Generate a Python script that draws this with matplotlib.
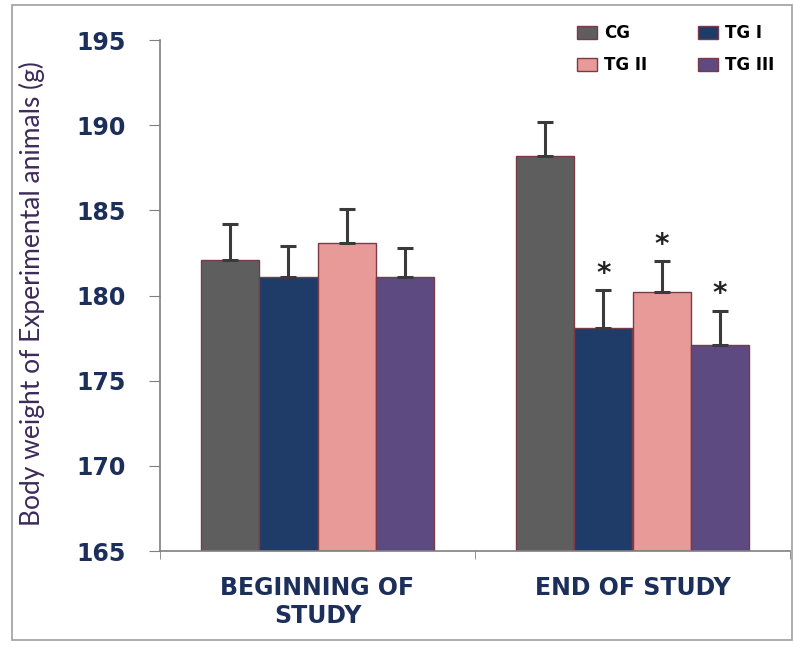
import matplotlib
matplotlib.use("Agg")
import matplotlib.pyplot as plt
import numpy as np
from matplotlib.patches import Rectangle

categories = ["BEGINNING OF\nSTUDY", "END OF STUDY"]
groups = ["CG", "TG I", "TG II", "TG III"]
means = {
    "CG": [182.1, 188.2],
    "TG I": [181.1, 178.1],
    "TG II": [183.1, 180.2],
    "TG III": [181.1, 177.1],
}
errors = {
    "CG": [2.1, 2.0],
    "TG I": [1.8, 2.2],
    "TG II": [2.0, 1.8],
    "TG III": [1.7, 2.0],
}
significant = {
    "CG": [False, False],
    "TG I": [False, True],
    "TG II": [False, True],
    "TG III": [False, True],
}
colors = {"CG": "#5e5e5e", "TG I": "#1f3c68", "TG II": "#e89a99", "TG III": "#5d4a80"}
yticks = [165, 170, 175, 180, 185, 190, 195]

fig = plt.figure(figsize=(7.94, 6.54), dpi=100)
fig.patches.append(Rectangle((12/794, 14/654), 1 - 12/794 - 0.002, 1 - 14/654 - 5/654,
                             transform=fig.transFigure, fill=False,
                             edgecolor="#a0a0a0", linewidth=1.2))
ax = fig.add_axes([160/794, 1 - 551/654, 630/794, 511/654])

x = np.arange(len(categories))
width = 0.185
n = len(groups)
handles = {}
for i, g in enumerate(groups):
    pos = x + (i - (n - 1) / 2) * width
    h = ax.bar(pos, np.array(means[g]) - 165, bottom=165, width=width, color=colors[g],
               edgecolor="#7a3a48", linewidth=1.0, label=g, zorder=2)
    handles[g] = h
    ax.errorbar(pos, means[g], yerr=[np.zeros(len(x)), errors[g]], fmt="none",
                ecolor="#3a3a3a", elinewidth=2.2, capsize=6, capthick=2.2, zorder=3)
    for j, s in enumerate(significant[g]):
        if s:
            ax.text(pos[j], means[g][j] + errors[g][j] + 0.15, "*", ha="center", va="bottom",
                    fontsize=20, fontweight="bold", color="#222222")

ax.set_ylim(165, 195)
ax.set_xlim(-0.5, 1.5)
ax.set_yticks(yticks)
ax.set_yticklabels([str(t) for t in yticks], fontsize=17, fontweight="bold",
                   color="#1c2e5a", family="DejaVu Sans")
ax.set_xticks(x)
ax.set_xticklabels(categories, fontsize=17, fontweight="bold", color="#1c2e5a",
                   family="DejaVu Sans", linespacing=1.2)
ax.set_xticks([-0.5, 0.5, 1.5], minor=True)
ax.tick_params(axis="x", which="major", length=0, pad=18)
ax.tick_params(axis="x", which="minor", length=6, direction="out", color="#7f7f7f")
ax.tick_params(axis="y", length=8, direction="out", color="#7f7f7f", pad=17)
for sp in ["top", "right"]:
    ax.spines[sp].set_visible(False)
for sp in ["left", "bottom"]:
    ax.spines[sp].set_color("#7f7f7f")
    ax.spines[sp].set_linewidth(1.2)

ax.set_ylabel("Body weight of Experimental animals (g)", fontsize=19, color="#3c2a5a",
              family="Lato")
ax.yaxis.set_label_coords(-0.1825, 0.503)

order = ["CG", "TG II", "TG I", "TG III"]
leg = fig.legend([handles[g] for g in order], order, loc="upper left", ncol=2, frameon=False,
                 prop={"weight": "bold", "family": "DejaVu Sans", "size": 12},
                 handlelength=1.2, handleheight=0.8, columnspacing=3.0,
                 labelspacing=0.85, handletextpad=0.45, borderpad=0, borderaxespad=0,
                 bbox_to_anchor=(577/794, 1 - 24/654))

fig.savefig("out.png", dpi=100)
